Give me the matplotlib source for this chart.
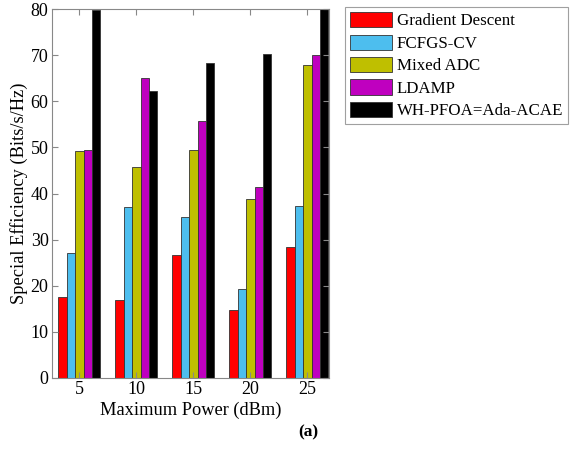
import matplotlib
matplotlib.use("Agg")
import matplotlib.pyplot as plt
import numpy as np

plt.rcParams['font.family'] = ['Liberation Serif', 'DejaVu Serif']
plt.rcParams['mathtext.fontset'] = 'stix'

powers = [5, 10, 15, 20, 25]
series_names = ["Gradient Descent", "FCFGS-CV", "Mixed ADC", "LDAMP", "WH-PFOA=Ada-ACAE"]
gradient_descent = [17.5, 17.0, 26.6, 14.7, 28.4]
fcfgs_cv = [27.0, 37.0, 35.0, 19.3, 37.2]
mixed_adc = [49.2, 45.8, 49.4, 38.8, 67.9]
ldamp = [49.4, 65.1, 55.8, 41.4, 70.0]
wh_pfoa = [79.7, 62.3, 68.2, 70.2, 80.5]
colors = ["#ff0000", "#4dbeee", "#bfbf00", "#bf00bf", "#000000"]

data = [gradient_descent, fcfgs_cv, mixed_adc, ldamp, wh_pfoa]

fig = plt.figure(figsize=(5.71, 4.57), dpi=100)
ax = fig.add_axes([52/571, 1 - 378/457, (329-52)/571, (378-9)/457])

n = len(data)
group_w = 0.74 * 5
bw = group_w / n
x = np.array(powers, dtype=float)
for i, (vals, c, name) in enumerate(zip(data, colors, series_names)):
    ax.bar(x + (i - (n-1)/2) * bw, vals, width=bw, color=c, edgecolor="#333333",
           linewidth=0.6, label=name)

ax.set_xlim(2.6, 26.9)
ax.set_ylim(0, 80)
ax.set_xticks(powers)
ax.set_yticks(range(0, 81, 10))
ax.tick_params(direction='in', top=True, right=True, labelsize=13, length=4,
               color="#888888", width=0.8, pad=2.5)
for s in ax.spines.values():
    s.set_color("#888888")
    s.set_linewidth(0.8)
ax.set_xlabel("Maximum Power (dBm)", fontsize=13.2, labelpad=2)
ax.set_ylabel("Special Efficiency (Bits/s/Hz)", fontsize=13.2, labelpad=2)

leg = fig.legend(loc='upper left', bbox_to_anchor=(345/571, 1 - 7/457), fontsize=12.2,
                 frameon=True, fancybox=False, edgecolor="#888888",
                 handlelength=2.5, handleheight=1.0, handletextpad=0.25,
                 borderpad=0.3, labelspacing=0.3, borderaxespad=0)
leg.get_frame().set_linewidth(0.8)

fig.text(308/571, 1 - 432/457, "(a)", fontsize=12.5, fontweight='bold', ha='center', va='center')

fig.savefig("out.png", dpi=100)
